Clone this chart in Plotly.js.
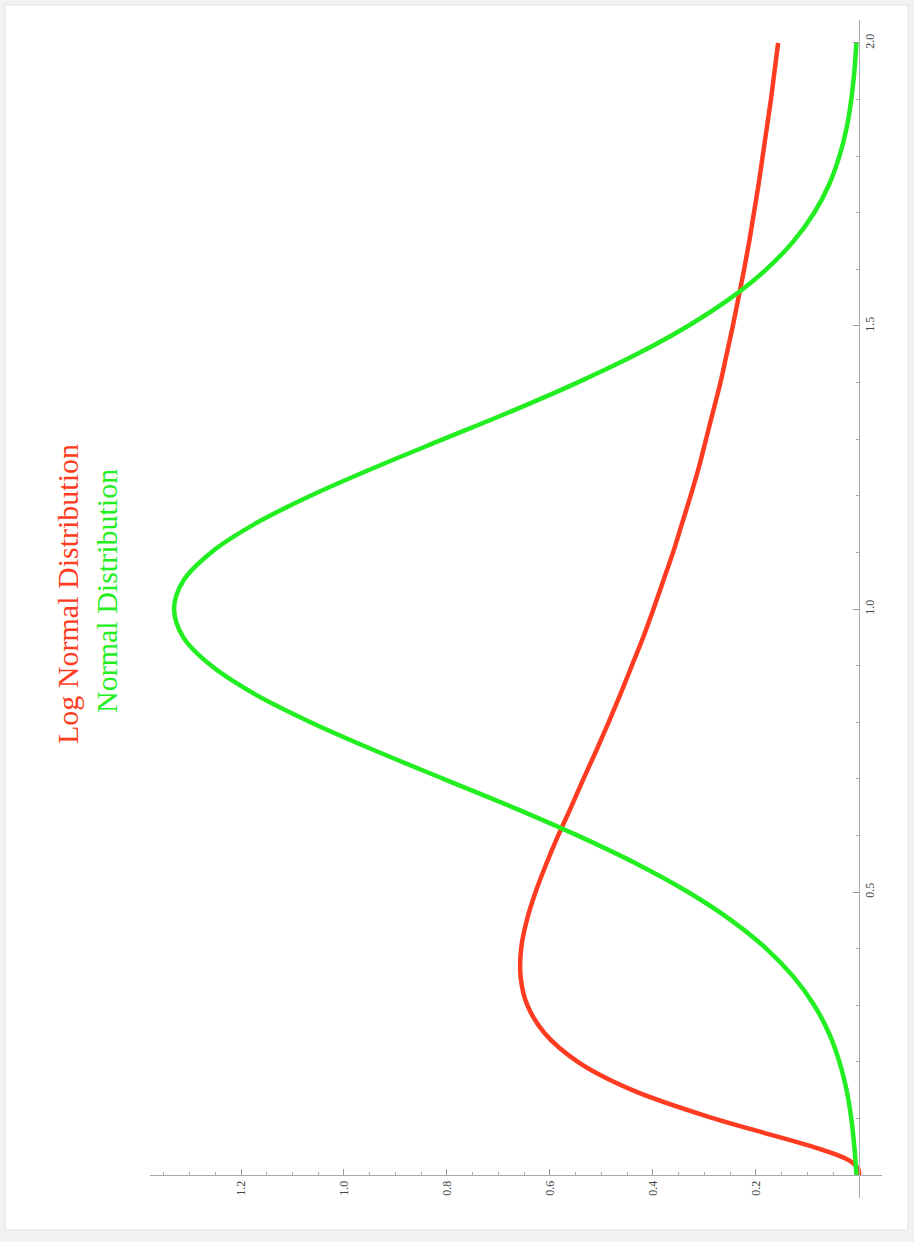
<!DOCTYPE html>
<html>
<head>
<meta charset="utf-8">
<script src="https://cdn.plot.ly/plotly-3.0.1.min.js"></script>
<style>html,body{margin:0;padding:0;background:#f2f2f2;}#chart{width:914px;height:1242px;}</style>
</head>
<body>
<div id="chart"></div>
<script>
// Values (x = variable, density values)
const logNormalX = [0, 0.01, 0.02, 0.03, 0.05, 0.075, 0.1, 0.15, 0.2, 0.25, 0.3, 0.35, 0.4, 0.45, 0.5, 0.55, 0.6, 0.65, 0.7, 0.75, 0.8, 0.85, 0.9, 0.95, 1.0, 1.05, 1.1, 1.15, 1.2, 1.25, 1.3, 1.35, 1.4, 1.45, 1.5, 1.55, 1.6, 1.65, 1.7, 1.75, 1.8, 1.85, 1.9, 1.95, 2.0];
const logNormalY = [0, 0.001, 0.010, 0.028, 0.090, 0.186, 0.282, 0.440, 0.546, 0.610, 0.644, 0.657, 0.656, 0.645, 0.628, 0.607, 0.584, 0.559, 0.535, 0.510, 0.486, 0.463, 0.441, 0.419, 0.399, 0.380, 0.361, 0.344, 0.327, 0.311, 0.297, 0.283, 0.269, 0.257, 0.245, 0.234, 0.223, 0.213, 0.204, 0.195, 0.187, 0.179, 0.171, 0.164, 0.157];
const normalX = [0, 0.05, 0.1, 0.15, 0.2, 0.25, 0.3, 0.35, 0.4, 0.45, 0.5, 0.55, 0.6, 0.65, 0.7, 0.75, 0.8, 0.85, 0.9, 0.95, 1.0, 1.05, 1.1, 1.15, 1.2, 1.25, 1.3, 1.35, 1.4, 1.45, 1.5, 1.55, 1.6, 1.65, 1.7, 1.75, 1.8, 1.85, 1.9, 1.95, 2.0];
const normalY = [0.005, 0.009, 0.015, 0.024, 0.038, 0.058, 0.087, 0.127, 0.180, 0.248, 0.332, 0.432, 0.547, 0.673, 0.807, 0.940, 1.065, 1.174, 1.258, 1.312, 1.330, 1.312, 1.258, 1.174, 1.065, 0.940, 0.807, 0.673, 0.547, 0.432, 0.332, 0.248, 0.180, 0.127, 0.087, 0.058, 0.038, 0.024, 0.015, 0.009, 0.005];

const densityTicks = [0.2, 0.4, 0.6, 0.8, 1.0, 1.2];
const densityTickText = ["0.2", "0.4", "0.6", "0.8", "1.0", "1.2"];
const varTicks = [0.5, 1.0, 1.5, 2.0];
const varTickText = ["0.5", "1.0", "1.5", "2.0"];
const seriesNames = ["Log Normal Distribution", "Normal Distribution"];

const redColor = "#ff3b22";
const greenColor = "#22ee22";

// geometry (rotated plot: density runs right-to-left, variable runs upward)
const dRange = [1.3767, -0.0447];
const vRange = [-0.0406, 2.0406];

const minorD = [];
for (let i = 1; i <= 27; i++) { const v = +(i * 0.05).toFixed(2); if (densityTicks.indexOf(v) < 0) minorD.push(v); }
const minorV = [];
for (let i = 1; i <= 20; i++) { const v = +(i * 0.1).toFixed(1); if (varTicks.indexOf(v) < 0) minorV.push(v); }

const traces = [
  {x: logNormalY, y: logNormalX, mode: "lines", line: {color: redColor, width: 4.5, shape: "spline"}, name: seriesNames[0], hoverinfo: "skip"},
  {x: normalY, y: normalX, mode: "lines", line: {color: greenColor, width: 4.5, shape: "spline"}, name: seriesNames[1], hoverinfo: "skip"}
];

const xPos = (0 - vRange[0]) / (vRange[1] - vRange[0]);
const yPos = (0 - dRange[0]) / (dRange[1] - dRange[0]);

const tickFont = {family: "Liberation Serif, Times New Roman, serif", size: 12, color: "#444"};

const layout = {
  width: 914, height: 1242,
  margin: {l: 150, r: 32, t: 20, b: 44},
  paper_bgcolor: "#f2f2f2",
  plot_bgcolor: "rgba(0,0,0,0)",
  showlegend: false,
  xaxis: {
    range: dRange, anchor: "free", position: xPos, side: "bottom",
    showgrid: false, zeroline: false, showline: true, linecolor: "#aaa", linewidth: 1,
    tickmode: "array", tickvals: densityTicks, ticktext: densityTickText,
    ticks: "inside", ticklen: 6, tickcolor: "#999", tickangle: -90, tickfont: tickFont,
    minor: {tickmode: "array", tickvals: minorD, ticks: "inside", ticklen: 3, tickcolor: "#aaa", showgrid: false}
  },
  yaxis: {
    range: vRange, anchor: "free", position: yPos, side: "right",
    showgrid: false, zeroline: false, showline: true, linecolor: "#aaa", linewidth: 1,
    tickmode: "array", tickvals: varTicks, ticktext: varTickText,
    ticks: "inside", ticklen: 6, tickcolor: "#999", tickangle: -90, tickfont: tickFont,
    minor: {tickmode: "array", tickvals: minorV, ticks: "inside", ticklen: 3, tickcolor: "#aaa", showgrid: false}
  },
  shapes: [
    {type: "rect", xref: "paper", yref: "paper", layer: "below",
     x0: (5 - 150) / 732, x1: (908 - 150) / 732, y0: (1198 - 1230) / 1178, y1: (1198 - 5) / 1178,
     fillcolor: "#ffffff", line: {color: "#e2e2e2", width: 1}}
  ],
  annotations: [
    {xref: "paper", yref: "paper", x: (67 - 150) / 732, y: (1198 - 594) / 1178, text: seriesNames[0],
     showarrow: false, textangle: -90, xanchor: "center", yanchor: "middle",
     font: {family: "Liberation Serif, Times New Roman, serif", size: 30, color: redColor}},
    {xref: "paper", yref: "paper", x: (106 - 150) / 732, y: (1198 - 591) / 1178, text: seriesNames[1],
     showarrow: false, textangle: -90, xanchor: "center", yanchor: "middle",
     font: {family: "Liberation Serif, Times New Roman, serif", size: 30, color: greenColor}}
  ]
};

Plotly.newPlot("chart", traces, layout, {displayModeBar: false, staticPlot: true});
</script>
</body>
</html>
